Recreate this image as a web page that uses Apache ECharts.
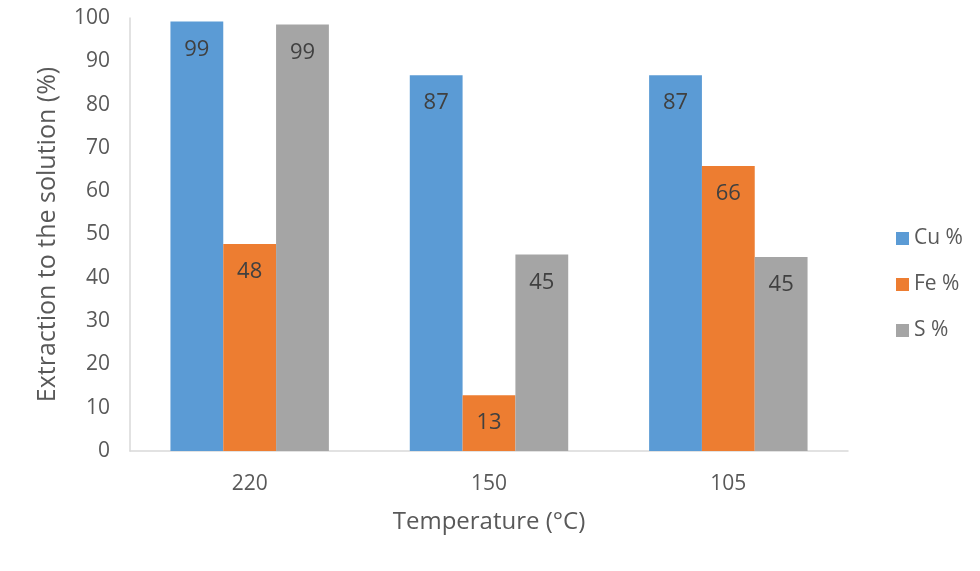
<!DOCTYPE html>
<html>
<head>
<meta charset="utf-8">
<script src="https://cdn.jsdelivr.net/npm/echarts@6/dist/echarts.min.js"></script>
<style>html,body{margin:0;padding:0;background:#fff}#c{width:980px;height:571px}</style>
</head>
<body>
<div id="c"></div>
<script>
const categories = ['220', '150', '105'];
const cuValues = [99.2, 86.8, 86.8];
const feValues = [47.8, 12.9, 65.8];
const sValues = [98.5, 45.4, 44.8];
const seriesNames = ['Cu %', 'Fe %', 'S %'];
const colors = ['#5B9BD5', '#ED7D31', '#A5A5A5'];

const font = '"Open Sans", "Noto Sans", sans-serif';
const chart = echarts.init(document.getElementById('c'));
const mk = (name, data, color) => ({
  name, type: 'bar', data,
  barGap: '0%', barCategoryGap: '33.8%',
  itemStyle: { color },
  label: {
    show: true, position: 'insideTop', distance: 17,
    color: '#404040', fontSize: 22, fontFamily: font,
    formatter: p => Math.round(p.value)
  }
});
chart.setOption({
  animation: false,
  textStyle: { fontFamily: font },
  grid: { left: 130, top: 18, width: 718, bottom: 120 },
  legend: {
    orient: 'vertical', left: 891, top: 223, itemGap: 25,
    itemWidth: 13, itemHeight: 13, icon: 'rect',
    textStyle: { fontSize: 21, color: '#595959', fontFamily: font },
    data: seriesNames
  },
  xAxis: {
    type: 'category', data: categories,
    name: 'Temperature (°C)', nameLocation: 'middle', nameGap: 59,
    nameTextStyle: { fontSize: 24, color: '#595959' },
    axisLine: { lineStyle: { color: '#D9D9D9', width: 1.5 } },
    axisTick: { show: false },
    axisLabel: { fontSize: 21, color: '#595959', margin: 23 }
  },
  yAxis: {
    type: 'value', min: 0, max: 100, interval: 10,
    name: 'Extraction to the solution (%)', nameLocation: 'middle', nameGap: 70,
    nameTextStyle: { fontSize: 25, color: '#595959' },
    axisLine: { show: true, lineStyle: { color: '#D9D9D9', width: 1.5 } },
    axisTick: { show: false },
    splitLine: { show: false },
    axisLabel: { fontSize: 21, color: '#595959', margin: 20 }
  },
  series: [
    mk(seriesNames[0], cuValues, colors[0]),
    mk(seriesNames[1], feValues, colors[1]),
    mk(seriesNames[2], sValues, colors[2])
  ]
});
</script>
</body>
</html>
